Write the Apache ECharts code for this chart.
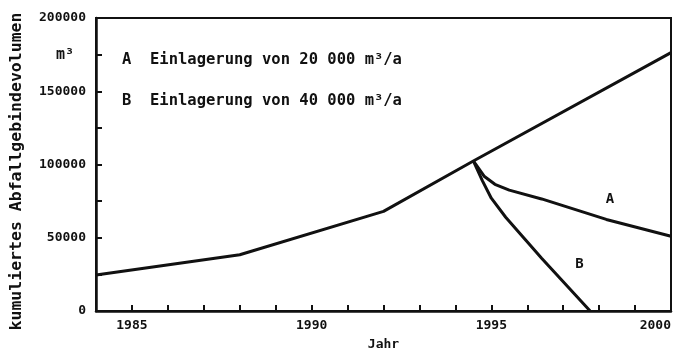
<!DOCTYPE html>
<html>
<head>
<meta charset="utf-8">
<script src="https://cdn.jsdelivr.net/npm/echarts@6/dist/echarts.min.js"></script>
<style>
  html, body { margin: 0; padding: 0; background: #fff; }
  #chart { width: 681px; height: 356px; }
</style>
</head>
<body>
<div id="chart"></div>
<script>
// Cumulative waste-package volume: common history up to 1994.5, then two storage scenarios
const mainYears = [1984, 1988, 1992, 1994.5, 2000];
const mainVolume = [24600, 38400, 68000, 102400, 176400];

// Scenario A: 20 000 m³/a taken into storage
const aYears = [1994.5, 1994.8, 1995.1, 1995.5, 1996.4, 1998.2, 2000];
const aVolume = [102400, 92000, 86500, 82500, 76500, 62500, 51000];

// Scenario B: 40 000 m³/a taken into storage
const bYears = [1994.5, 1994.75, 1995.0, 1995.4, 1996.4, 1997.75];
const bVolume = [102400, 89000, 77000, 64000, 36000, 0];

// Curve tags placed next to the lines
const tagA = { name: 'A', year: 1998.3, volume: 76000 };
const tagB = { name: 'B', year: 1997.45, volume: 32000 };

// Tick labels
const yearLabels = [1985, 1990, 1995, 2000];
const volumeLabels = [0, 50000, 100000, 150000, 200000];
const unitTickValue = 175000;

const legendA = 'A  Einlagerung von 20 000 m³/a';
const legendB = 'B  Einlagerung von 40 000 m³/a';

const ink = '#111';
const mono = '"DejaVu Sans Mono", "Liberation Mono", monospace';

const pairs = (xs, ys) => xs.map((x, i) => [x, ys[i]]);

const lineSeries = (data, tag) => ({
  type: 'line',
  data: data,
  symbol: 'none',
  lineStyle: { color: ink, width: 3 },
  z: 3,
  markPoint: tag ? {
    symbol: 'circle',
    symbolSize: 0,
    data: [{ name: tag.name, coord: [tag.year, tag.volume] }],
    label: {
      show: true,
      formatter: '{b}',
      color: ink,
      fontFamily: mono,
      fontWeight: 'bold',
      fontSize: 14
    }
  } : undefined
});

const chart = echarts.init(document.getElementById('chart'), null, { renderer: 'canvas' });

chart.setOption({
  backgroundColor: '#fff',
  animation: false,
  grid: {
    left: 93, right: 10, top: 18, bottom: 41,
    show: true,
    borderColor: ink,
    borderWidth: 2
  },
  xAxis: {
    type: 'value',
    min: 1984,
    max: 2000,
    interval: 1,
    name: 'Jahr',
    nameLocation: 'middle',
    nameGap: 27,
    nameTextStyle: { color: ink, fontFamily: mono, fontWeight: 'bold', fontSize: 13 },
    axisLine: { show: true, lineStyle: { color: ink, width: 2.5 } },
    axisTick: { show: true, inside: true, length: 6, lineStyle: { color: ink, width: 2 } },
    splitLine: { show: false },
    axisLabel: {
      color: ink,
      fontFamily: mono,
      fontWeight: 'bold',
      fontSize: 13,
      margin: 8,
      alignMaxLabel: 'right',
      formatter: v => (yearLabels.includes(v) ? String(v) : '')
    }
  },
  yAxis: {
    type: 'value',
    min: 0,
    max: 200000,
    interval: 25000,
    name: 'kumuliertes Abfallgebindevolumen',
    nameLocation: 'middle',
    nameGap: 71,
    nameRotate: 90,
    nameTextStyle: {
      color: ink, fontFamily: mono, fontWeight: 'bold', fontSize: 16.5,
      padding: [0, 14, 0, 0]
    },
    axisLine: { show: true, lineStyle: { color: ink, width: 2.5 } },
    axisTick: { show: true, inside: true, length: 6, lineStyle: { color: ink, width: 2 } },
    splitLine: { show: false },
    axisLabel: {
      color: ink,
      fontFamily: mono,
      fontWeight: 'bold',
      fontSize: 13,
      margin: 10,
      formatter: v => {
        if (v === unitTickValue) return '{unit|m³}';
        return volumeLabels.includes(v) ? String(v) : '';
      },
      rich: {
        unit: { fontFamily: mono, fontWeight: 'bold', fontSize: 15, color: ink, padding: [0, 12, 0, 0] }
      }
    }
  },
  graphic: [
    {
      type: 'text', left: 122, top: 52,
      style: { text: legendA, fill: ink, font: 'bold 15.5px ' + mono }
    },
    {
      type: 'text', left: 122, top: 93,
      style: { text: legendB, fill: ink, font: 'bold 15.5px ' + mono }
    }
  ],
  series: [
    lineSeries(pairs(mainYears, mainVolume), null),
    lineSeries(pairs(aYears, aVolume), tagA),
    lineSeries(pairs(bYears, bVolume), tagB)
  ]
});
</script>
</body>
</html>
